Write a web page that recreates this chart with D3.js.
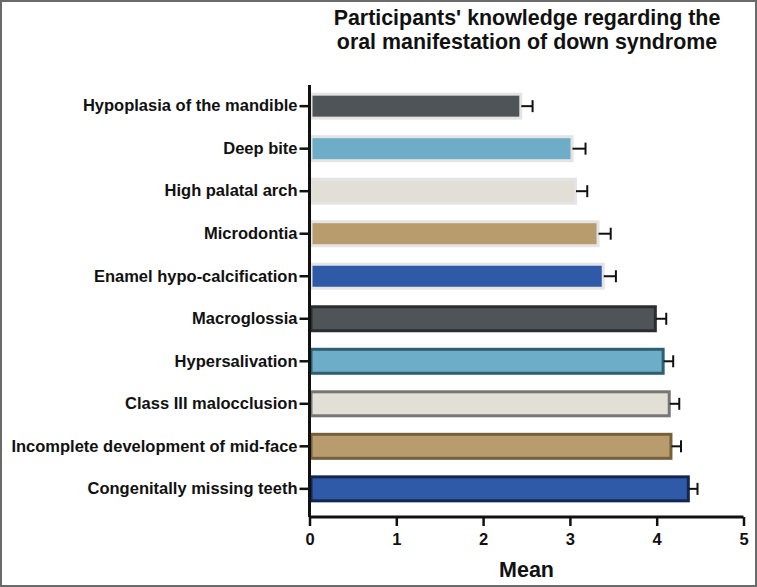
<!DOCTYPE html>
<html>
<head>
<meta charset="utf-8">
<script src="https://cdn.jsdelivr.net/npm/d3@7"></script>
<style>
  body { margin: 0; background: #fff; }
  svg { display: block; font-family: "Liberation Sans", Arial, sans-serif; }
</style>
</head>
<body>
<script>
//Chart data
var categories = ["Hypoplasia of the mandible", "Deep bite", "High palatal arch", "Microdontia",
                  "Enamel hypo-calcification", "Macroglossia", "Hypersalivation",
                  "Class III malocclusion", "Incomplete development of mid-face", "Congenitally missing teeth"];
var means  = [2.44, 3.03, 3.07, 3.33, 3.39, 3.99, 4.08, 4.15, 4.17, 4.37];
var errors = [0.13, 0.15, 0.13, 0.14, 0.14, 0.12, 0.11, 0.11, 0.11, 0.10];
var xTicks = [0, 1, 2, 3, 4, 5];

//Colours (cycle of five, lower five bars get darker outlines)
var fills   = ["#4f5459", "#6eadc7", "#e2dfd7", "#b89c6e", "#2e5aa8"];
var strokes = ["#e4e4e4", "#e4e4e4", "#e4e4e4", "#e4e4e4", "#e4e4e4",
               "#2b2e31", "#2e5f70", "#777673", "#75603a", "#14254f"];

var w = 757, h = 587;

var svg = d3.select("body").append("svg")
            .attr("width", w)
            .attr("height", h);

//outer frame
svg.append("rect")
   .attr("x", 1).attr("y", 1)
   .attr("width", w - 2).attr("height", h - 2)
   .attr("fill", "#fff")
   .attr("stroke", "#6a6a6a")
   .attr("stroke-width", 2);

var x = d3.scaleLinear().domain([0, 5]).range([309.5, 743.5]);
var y = d3.scaleBand().domain(categories).range([85, 510]).paddingInner(0.365).paddingOuter(0.18);

//bars
svg.selectAll("rect.bar")
   .data(categories)
   .enter()
   .append("rect")
   .attr("class", "bar")
   .attr("x", x(0) + 1.5)
   .attr("y", function(d) { return y(d) + 1.5; })
   .attr("width", function(d, i) { return x(means[i]) - x(0) - 2; })
   .attr("height", y.bandwidth() - 3)
   .attr("fill", function(d, i) { return fills[i % 5]; })
   .attr("stroke", function(d, i) { return strokes[i]; })
   .attr("stroke-width", 3);

//error bars
var err = svg.selectAll("g.err")
   .data(categories)
   .enter()
   .append("g")
   .attr("class", "err")
   .attr("stroke", "#111")
   .attr("stroke-width", 2);

err.append("line")
   .attr("x1", function(d, i) { return x(means[i]); })
   .attr("x2", function(d, i) { return x(means[i] + errors[i]); })
   .attr("y1", function(d) { return y(d) + y.bandwidth() / 2; })
   .attr("y2", function(d) { return y(d) + y.bandwidth() / 2; });

err.append("line")
   .attr("x1", function(d, i) { return x(means[i] + errors[i]); })
   .attr("x2", function(d, i) { return x(means[i] + errors[i]); })
   .attr("y1", function(d) { return y(d) + y.bandwidth() / 2 - 6; })
   .attr("y2", function(d) { return y(d) + y.bandwidth() / 2 + 6; });

//y axis
var yAxis = svg.append("g")
   .attr("transform", "translate(" + x(0) + ",0)")
   .call(d3.axisLeft(y).tickSize(10).tickPadding(2));
yAxis.select(".domain").attr("d", "M0,85V517").attr("stroke", "#111").attr("stroke-width", 3);
yAxis.selectAll(".tick line").attr("stroke", "#111").attr("stroke-width", 2.5);
yAxis.selectAll(".tick text")
   .attr("fill", "#111")
   .style("font-size", "16.5px")
   .style("font-weight", "bold");

//x axis
var xAxis = svg.append("g")
   .attr("transform", "translate(0,517)")
   .call(d3.axisBottom(x).tickValues(xTicks).tickFormat(d3.format("d")).tickSize(9).tickPadding(7));
xAxis.select(".domain").attr("d", "M" + x(0) + ",0H" + x(5)).attr("stroke", "#111").attr("stroke-width", 3);
xAxis.selectAll(".tick line").attr("stroke", "#111").attr("stroke-width", 2.5);
xAxis.selectAll(".tick text")
   .attr("fill", "#111")
   .style("font-size", "16.5px")
   .style("font-weight", "bold");

//axis title
svg.append("text")
   .attr("x", (x(0) + x(5)) / 2)
   .attr("y", 577)
   .attr("text-anchor", "middle")
   .attr("fill", "#111")
   .style("font-size", "21.5px")
   .style("font-weight", "bold")
   .text("Mean");

//chart title
var title = svg.append("text")
   .attr("x", 527)
   .attr("text-anchor", "middle")
   .attr("fill", "#111")
   .style("font-size", "21.4px")
   .style("font-weight", "bold");
title.append("tspan").attr("x", 527).attr("y", 25).text("Participants' knowledge regarding the");
title.append("tspan").attr("x", 527).attr("y", 49).text("oral manifestation of down syndrome");
</script>
</body>
</html>
